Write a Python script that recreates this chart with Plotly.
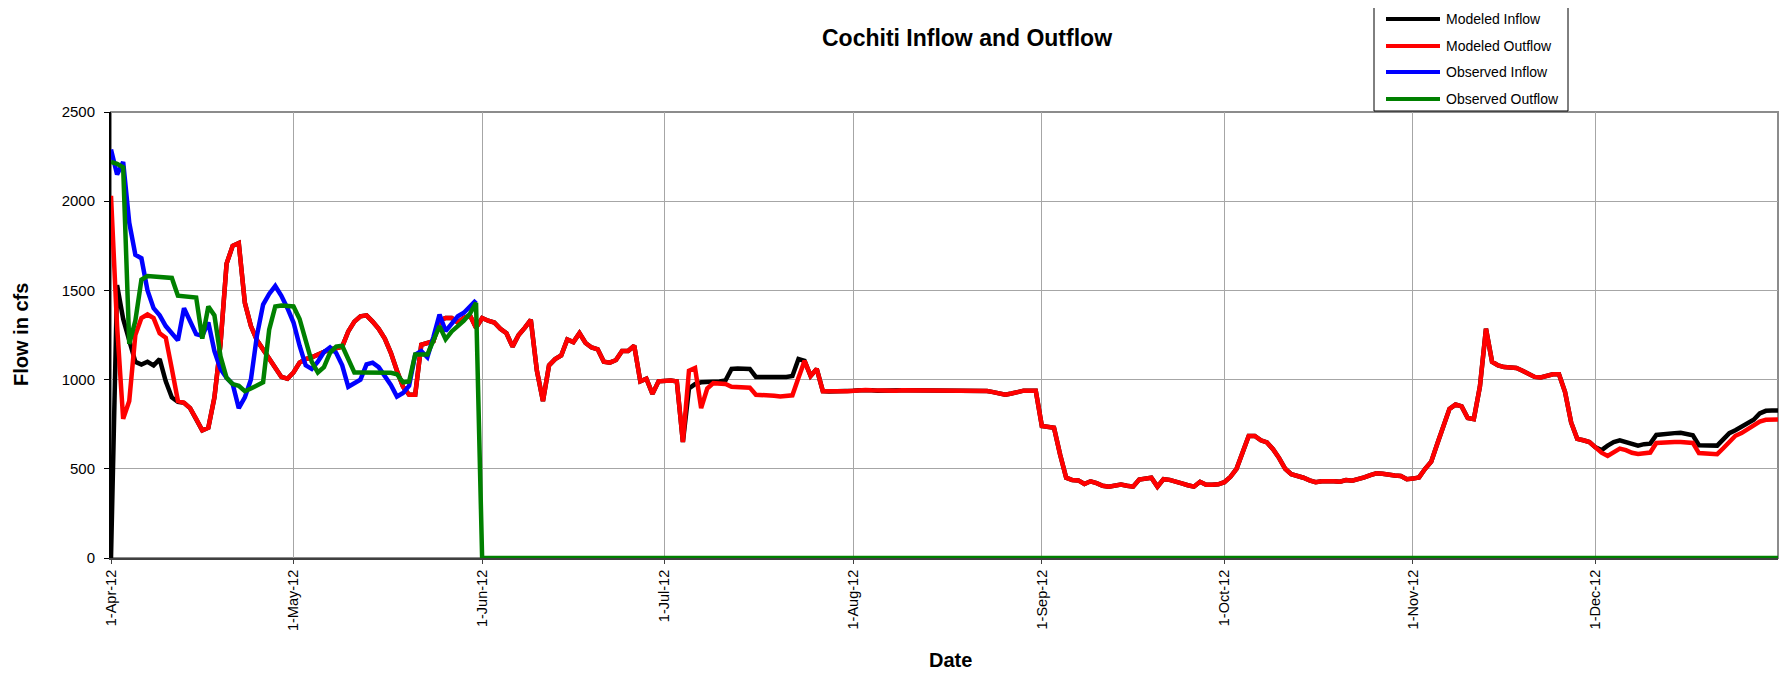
import pandas as pd
import plotly.graph_objects as go

# daily series, 1-Apr-12 .. 31-Dec-12 (cfs)
dates = pd.date_range("2012-04-01", "2012-12-31", freq="D")

modeled_inflow = [
    # Apr
    0, 1530, 1340, 1230, 1100, 1085, 1100, 1080, 1115, 990,
    900, 875, 870, 840, 780, 715, 730, 900, 1200, 1650,
    1750, 1765, 1430, 1300, 1220, 1170, 1120, 1070, 1015, 1005,
    # May
    1040, 1095, 1115, 1125, 1140, 1150, 1170, 1175, 1185, 1270,
    1325, 1355, 1360, 1325, 1285, 1230, 1150, 1050, 960, 915,
    915, 1195, 1205, 1215, 1330, 1345, 1345, 1320, 1345, 1360, 1290,
    # Jun
    1345, 1330, 1320, 1285, 1260, 1185, 1250, 1290, 1335, 1050,
    880, 1080, 1115, 1135, 1225, 1210, 1260, 1205, 1180, 1170,
    1100, 1095, 1110, 1160, 1160, 1190, 990, 1005, 920, 990,
    # Jul
    995, 995, 990, 650, 950, 975, 985, 985, 990, 990,
    995, 1060, 1062, 1062, 1060, 1015, 1015, 1013, 1012, 1012,
    1015, 1020, 1115, 1105, 1020, 1060, 935, 933, 933, 935, 935,
    # Aug
    938, 940, 942, 940, 938, 940, 940, 938, 940, 940,
    940, 939, 938, 938, 938, 937, 938, 938, 939, 940,
    939, 938, 936, 930, 922, 915, 922, 932, 938, 938, 938,
    # Sep
    740, 735, 730, 580, 450, 437, 435, 415, 430, 420,
    405, 400, 408, 412, 405, 400, 440, 448, 450, 400,
    442, 438, 425, 418, 408, 400, 427, 410, 410, 413,
    # Oct
    425, 455, 500, 590, 684, 684, 660, 648, 610, 560,
    500, 470, 461, 450, 435, 425, 430, 433, 430, 428,
    437, 433, 440, 452, 465, 475, 472, 465, 462, 460, 442,
    # Nov
    445, 452, 500, 540, 640, 740, 836, 860, 850, 785,
    778, 960, 1285, 1100, 1080, 1070, 1068, 1065, 1050, 1035,
    1015, 1012, 1020, 1030, 1030, 930, 760, 668, 660, 650,
    # Dec
    620, 605, 630, 650, 660, 650, 636, 630, 638, 641,
    690, 695, 698, 700, 702, 695, 688, 632, 632, 632,
    630, 665, 700, 716, 735, 755, 775, 810, 825, 827, 827,
]

modeled_outflow = [
    # Apr
    2030, 1300, 780, 880, 1250, 1345, 1365, 1345, 1260, 1235,
    1060, 880, 870, 840, 780, 715, 730, 900, 1200, 1650,
    1750, 1765, 1430, 1300, 1220, 1170, 1120, 1070, 1015, 1005,
    # May
    1040, 1095, 1115, 1125, 1140, 1150, 1170, 1175, 1185, 1270,
    1325, 1355, 1360, 1325, 1285, 1230, 1150, 1050, 960, 915,
    915, 1195, 1205, 1215, 1330, 1345, 1345, 1320, 1345, 1360, 1290,
    # Jun
    1345, 1330, 1320, 1285, 1260, 1185, 1250, 1290, 1335, 1050,
    880, 1080, 1115, 1135, 1225, 1210, 1260, 1205, 1180, 1170,
    1100, 1095, 1110, 1160, 1160, 1190, 990, 1005, 920, 990,
    # Jul
    995, 995, 990, 650, 1050, 1065, 840, 950, 980, 980,
    975, 960, 960, 960, 955, 915, 915, 912, 910, 905,
    910, 912, 1010, 1105, 1020, 1060, 935, 933, 933, 935, 935,
    # Aug
    938, 940, 942, 940, 938, 940, 940, 938, 940, 940,
    940, 939, 938, 938, 938, 937, 938, 938, 939, 940,
    939, 938, 936, 930, 922, 915, 922, 932, 938, 938, 938,
    # Sep
    740, 735, 730, 580, 450, 437, 435, 415, 430, 420,
    405, 400, 408, 412, 405, 400, 440, 448, 450, 400,
    442, 438, 425, 418, 408, 400, 427, 410, 410, 413,
    # Oct
    425, 455, 500, 590, 684, 684, 660, 648, 610, 560,
    500, 470, 461, 450, 435, 425, 430, 433, 430, 428,
    437, 433, 440, 452, 465, 475, 472, 465, 462, 460, 442,
    # Nov
    445, 452, 500, 540, 640, 740, 836, 860, 850, 785,
    778, 960, 1285, 1100, 1080, 1070, 1068, 1065, 1050, 1035,
    1015, 1012, 1020, 1030, 1030, 930, 760, 668, 660, 650,
    # Dec
    620, 590, 572, 595, 613, 605, 590, 583, 588, 591,
    645, 648, 650, 650, 650, 648, 645, 588, 585, 584,
    582, 615, 650, 685, 700, 720, 740, 765, 775, 777, 777,
]

# gauge record only covers April and May
observed_inflow = [
    # Apr
    2290, 2150, 2220, 1880, 1700, 1680, 1500, 1400, 1360, 1300,
    1260, 1220, 1400, 1320, 1255, 1245, 1320, 1160, 1060, 1010,
    975, 840, 900, 1000, 1250, 1420, 1480, 1525, 1470, 1400,
    # May
    1320, 1190, 1080, 1060, 1100, 1155, 1180, 1150, 1080, 960,
    980, 1000, 1085, 1095, 1070, 1020, 970, 905, 925, 965,
    1140, 1160, 1125, 1240, 1365, 1272, 1310, 1355, 1375, 1410, 1445,
]

observed_outflow = [
    # Apr
    2220, 2210, 2190, 1200, 1330, 1560, 1580, 1578, 1575, 1570,
    1570, 1470, 1465, 1463, 1460, 1230, 1410, 1360, 1130, 1010,
    975, 965, 935, 950, 970, 985, 1280, 1410, 1415, 1415,
    # May
    1410, 1340, 1230, 1100, 1040, 1070, 1150, 1185, 1190, 1110,
    1040, 1040, 1040, 1040, 1040, 1040, 1038, 1030, 985, 990,
    1140, 1140, 1140, 1220, 1300, 1226, 1270, 1300, 1330, 1370, 1430,
    # Jun
    0, 0, 0, 0, 0, 0, 0, 0, 0, 0, 0, 0, 0, 0, 0,
    0, 0, 0, 0, 0, 0, 0, 0, 0, 0, 0, 0, 0, 0, 0,
    # Jul
    0, 0, 0, 0, 0, 0, 0, 0, 0, 0, 0, 0, 0, 0, 0, 0,
    0, 0, 0, 0, 0, 0, 0, 0, 0, 0, 0, 0, 0, 0, 0,
    # Aug
    0, 0, 0, 0, 0, 0, 0, 0, 0, 0, 0, 0, 0, 0, 0, 0,
    0, 0, 0, 0, 0, 0, 0, 0, 0, 0, 0, 0, 0, 0, 0,
    # Sep
    0, 0, 0, 0, 0, 0, 0, 0, 0, 0, 0, 0, 0, 0, 0,
    0, 0, 0, 0, 0, 0, 0, 0, 0, 0, 0, 0, 0, 0, 0,
    # Oct
    0, 0, 0, 0, 0, 0, 0, 0, 0, 0, 0, 0, 0, 0, 0, 0,
    0, 0, 0, 0, 0, 0, 0, 0, 0, 0, 0, 0, 0, 0, 0,
    # Nov
    0, 0, 0, 0, 0, 0, 0, 0, 0, 0, 0, 0, 0, 0, 0,
    0, 0, 0, 0, 0, 0, 0, 0, 0, 0, 0, 0, 0, 0, 0,
    # Dec
    0, 0, 0, 0, 0, 0, 0, 0, 0, 0, 0, 0, 0, 0, 0, 0,
    0, 0, 0, 0, 0, 0, 0, 0, 0, 0, 0, 0, 0, 0, 0,
]

month_ticks = pd.date_range("2012-04-01", "2012-12-01", freq="MS")
month_labels = ["1-Apr-12", "1-May-12", "1-Jun-12", "1-Jul-12", "1-Aug-12",
                "1-Sep-12", "1-Oct-12", "1-Nov-12", "1-Dec-12"]

series = [("Modeled Inflow", modeled_inflow, "#000000"),
          ("Modeled Outflow", modeled_outflow, "#ff0000"),
          ("Observed Inflow", observed_inflow, "#0000ff"),
          ("Observed Outflow", observed_outflow, "#008000")]

# the page body has an 8px margin, so the figure is made 8px smaller and
# page pixel positions are shifted by OFF before turning them into paper coords
OFF = 8
W, H = 1791 - OFF, 673 - OFF
L, R, T, B = 111 - OFF, 13, 112 - OFF, 115
pw, ph = W - L - R, H - T - B
def px(x): return (x - OFF - L) / pw
def py(y): return (H - B - (y - OFF)) / ph

FONT = "Arial, Liberation Sans, sans-serif"

fig = go.Figure()
for name, vals, col in series:
    fig.add_trace(go.Scatter(x=dates[:len(vals)], y=vals, name=name, mode="lines",
                             line=dict(color=col, width=4.5), cliponaxis=False,
                             showlegend=False))

fig.update_layout(
    width=W, height=H,
    margin=dict(l=L, r=R, t=T, b=B),
    paper_bgcolor="white", plot_bgcolor="white",
    font=dict(family=FONT, color="black"),
)
fig.update_xaxes(type="date", range=["2012-04-01", "2012-12-31"],
                 tickvals=month_ticks, ticktext=month_labels, tickangle=-90,
                 tickfont=dict(size=14.5), ticks="outside", ticklen=4, tickcolor="#404040",
                 showgrid=True, gridcolor="#a6a6a6", gridwidth=1,
                 showline=True, linecolor="#404040", linewidth=2,
                 zeroline=False, layer="below traces")
fig.update_yaxes(range=[0, 2500], tickvals=[0, 500, 1000, 1500, 2000, 2500],
                 tickfont=dict(size=15), ticks="outside", ticklen=5, tickcolor="black",
                 ticklabelstandoff=6,
                 showgrid=True, gridcolor="#a6a6a6", gridwidth=1,
                 showline=True, linecolor="black", linewidth=2,
                 zeroline=False, layer="below traces")

# grey frame on top / right of the plot area
fig.add_shape(type="rect", xref="paper", yref="paper", x0=0, x1=1, y0=0, y1=1,
              line=dict(color="#8c8c8c", width=2), layer="below")

# titles
fig.add_annotation(text="Cochiti Inflow and Outflow", xref="paper", yref="paper",
                   x=px(967), y=py(38), xanchor="center", yanchor="middle",
                   showarrow=False, font=dict(size=23, weight="bold"))
fig.add_annotation(text="Flow in cfs", xref="paper", yref="paper",
                   x=px(21), y=py(335), xanchor="center", yanchor="middle",
                   textangle=-90, showarrow=False, font=dict(size=20, weight="bold"))
fig.add_annotation(text="Date", xref="paper", yref="paper",
                   x=px(950), y=py(660), xanchor="center", yanchor="middle",
                   showarrow=False, font=dict(size=20, weight="bold"))

# legend box drawn by hand (longer line samples than plotly's own legend)
fig.add_shape(type="rect", xref="paper", yref="paper",
              x0=px(1374), x1=px(1568), y0=py(111), y1=py(6),
              line=dict(color="black", width=1), fillcolor="white", layer="above")
row_y = [19, 46, 72, 99]
for (name, vals, col), ry in zip(series, row_y):
    fig.add_shape(type="line", xref="paper", yref="paper",
                  x0=px(1386), x1=px(1440), y0=py(ry), y1=py(ry),
                  line=dict(color=col, width=4), layer="above")
    fig.add_annotation(text=name, xref="paper", yref="paper", x=px(1444), y=py(ry),
                       xanchor="left", yanchor="middle", showarrow=False,
                       font=dict(size=14))

fig.write_html("out.html")
